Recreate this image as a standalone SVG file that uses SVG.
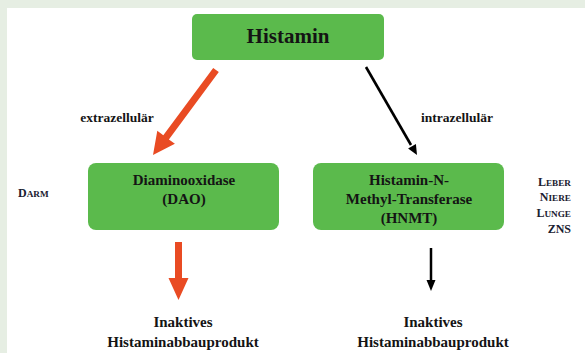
<svg xmlns="http://www.w3.org/2000/svg" width="585" height="353" viewBox="0 0 585 353">
<style>
.box{fill:#5bba4c;}
text{font-family:'Liberation Serif','DejaVu Serif',serif;font-weight:700;}
.t{fill:#141414;text-anchor:middle;}
.big{font-size:21px;}
.m{font-size:15px;}
.s{font-size:13.5px;}
.org{fill:#1a2030;font-size:12px;}
.sc{font-size:9.2px;}
.red{fill:#e94b23;}
.blk{fill:#000;}
</style>
<rect x="0" y="0" width="585" height="353" fill="#e6eee3"/>
<rect x="7" y="8" width="578" height="345" fill="#ffffff"/>

<g id="histamin">
<rect class="box" x="192" y="14" width="192" height="46" rx="5"/>
<text class="t big" x="288" y="43" font-family="Liberation Serif, serif">Histamin</text>
</g>

<g id="dao">
<rect class="box" x="88" y="163" width="191" height="67" rx="8"/>
<text class="t m" x="184" y="185">Diaminooxidase</text>
<text class="t m" x="184" y="204">(DAO)</text>
</g>

<g id="hnmt">
<rect class="box" x="313" y="163" width="191" height="67" rx="8"/>
<text class="t m" x="409" y="185">Histamin-N-</text>
<text class="t m" x="409" y="204">Methyl-Transferase</text>
<text class="t m" x="409" y="223">(HNMT)</text>
</g>

<g id="product-left">
<text class="t m" x="183" y="327">Inaktives</text>
<text class="t m" x="183" y="347">Histaminabbauprodukt</text>
</g>

<g id="product-right">
<text class="t m" x="433" y="327">Inaktives</text>
<text class="t m" x="433" y="347">Histaminabbauprodukt</text>
</g>

<g id="label-extra">
<text class="t s" x="117" y="122">extrazellulär</text>
</g>
<g id="label-intra">
<text class="t s" x="457" y="122">intrazellulär</text>
</g>

<g id="organ-darm">
<text class="org" x="18" y="197">D<tspan class="sc">ARM</tspan></text>
</g>
<g id="organ-hnmt" text-anchor="end">
<text class="org" x="571" y="186">L<tspan class="sc">EBER</tspan></text>
<text class="org" x="571" y="201">N<tspan class="sc">IERE</tspan></text>
<text class="org" x="571" y="217">L<tspan class="sc">UNGE</tspan></text>
<text class="org" x="571" y="233">ZNS</text>
</g>

<g id="connectors">
<polygon class="red" points="213.2,67.9 218.8,72.1 168.9,139.4 174.9,143.8 153,155 157.3,130.8 163.3,135.2"/>
<line x1="366" y1="67" x2="411" y2="145" stroke="#000" stroke-width="2.6"/>
<polygon class="blk" points="415.9,144.1 417,155 408.1,148.6"/>
<polygon class="red" points="175,242 182,242 182,278 188.5,278 178.5,300 168.5,278 175,278"/>
<line x1="431" y1="248" x2="431" y2="281" stroke="#000" stroke-width="2.5"/>
<polygon class="blk" points="426.5,280 435.5,280 431,291"/>
</g>
</svg>
